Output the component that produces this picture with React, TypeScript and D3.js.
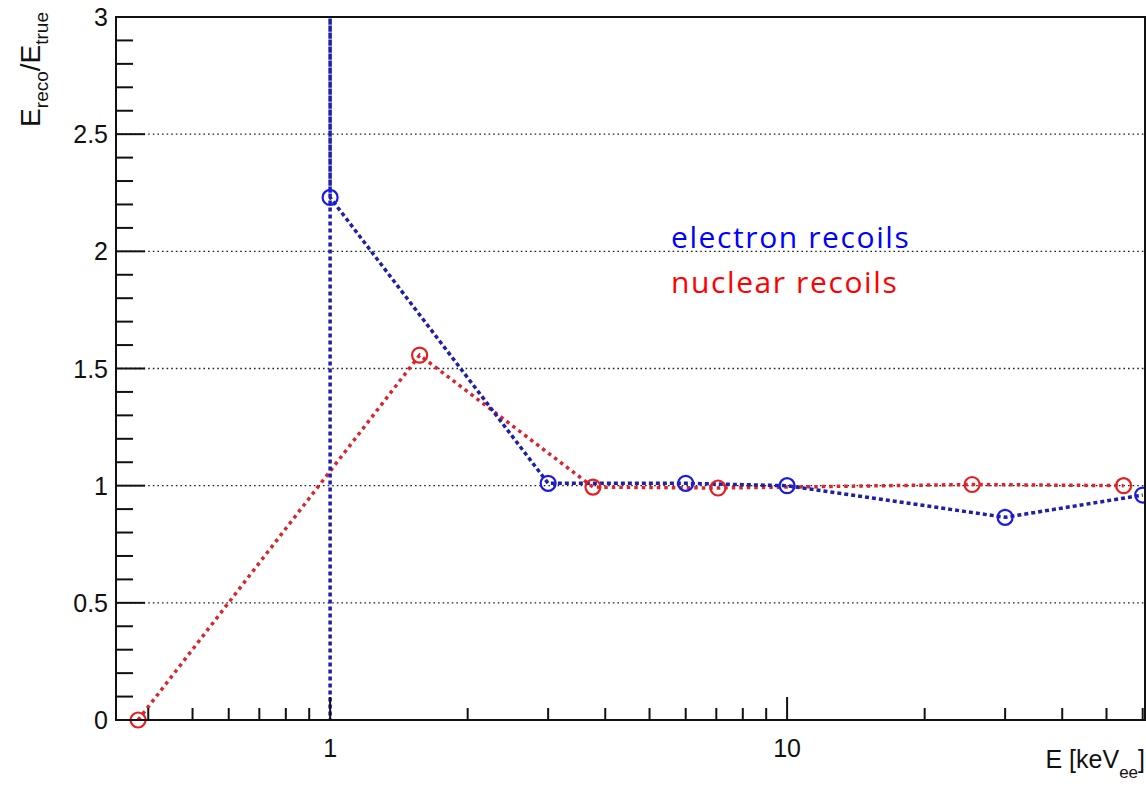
import React from "react";
import * as d3 from "d3";

const electronE = [1, 1, 1, 3, 6, 10, 30, 60];
const electronR = [-0.1, 3.1, 2.23, 1.01, 1.01, 1.0, 0.865, 0.96];
const nuclearE = [0.38, 1.57, 3.76, 7.06, 25.4, 54.5];
const nuclearR = [0, 1.557, 0.994, 0.99, 1.005, 1.0];
const yMajorTicks = [0, 0.5, 1, 1.5, 2, 2.5, 3];
const yGridTicks = [0.5, 1, 1.5, 2, 2.5];
const xMajorTicks = [1, 10];
const xTickLabels = ["1", "10"];
const seriesLabels = ["electron recoils", "nuclear recoils"];

const W = 1146;
const H = 788;
const L = 116, R = 1145, T = 17, B = 720;

export default function App() {
  const x = d3.scaleLog().domain([0.34, 60.7]).range([L, R]);
  const y = d3.scaleLinear().domain([0, 3]).range([B, T]);

  const yMinor = d3.range(0, 3.0001, 0.1).filter((v) => Math.abs(v * 2 - Math.round(v * 2)) > 1e-6);
  const xMinor: number[] = [];
  for (const dec of [0.1, 1, 10]) {
    for (let k = 2; k <= 9; k++) {
      const v = dec * k;
      if (v > 0.34 && v < 60.7) xMinor.push(v);
    }
  }

  const line = d3
    .line<[number, number]>()
    .x((d) => x(d[0]))
    .y((d) => y(d[1]));

  const ePts: [number, number][] = electronE.map((e, i) => [e, electronR[i]]);
  const nPts: [number, number][] = nuclearE.map((e, i) => [e, nuclearR[i]]);
  const inRange = (d: [number, number]) => d[1] >= 0 && d[1] <= 3;

  const font = "'Liberation Sans', Arial, Helvetica, sans-serif";
  const blueLine = "#1f1fa8";
  const redLine = "#d8262c";
  const blueMk = "#1a1ae6";
  const redMk = "#e61e1e";

  return (
    <svg
      width={W}
      height={H}
      style={{ position: "absolute", left: 0, top: 0, background: "#fff" }}
      fontFamily={font}
    >
      <defs>
        <clipPath id="plotclip">
          <rect x={L} y={T} width={R - L} height={B - T} />
        </clipPath>
      </defs>
      <rect x={0} y={0} width={W} height={H} fill="#fff" />

      {/* grid */}
      {yGridTicks.map((v) => (
        <line
          key={"g" + v}
          x1={L}
          x2={R}
          y1={y(v)}
          y2={y(v)}
          stroke="#222"
          strokeWidth={1.4}
          strokeDasharray="1.6 3"
        />
      ))}

      {/* series lines */}
      <g clipPath="url(#plotclip)">
        <path d={line(nPts) || ""} fill="none" stroke={redLine} strokeWidth={3.5} strokeDasharray="3.5 4" />
        <path d={line(ePts) || ""} fill="none" stroke={blueLine} strokeWidth={3.5} strokeDasharray="4 3" />
      </g>

      {/* markers */}
      {nPts.filter(inRange).map((d, i) => (
        <circle key={"n" + i} cx={x(d[0])} cy={y(d[1])} r={7.5} fill="none" stroke={redMk} strokeWidth={2.2} />
      ))}
      {ePts.filter(inRange).map((d, i) => (
        <circle key={"e" + i} cx={x(d[0])} cy={y(d[1])} r={7.5} fill="none" stroke={blueMk} strokeWidth={2.2} />
      ))}

      {/* frame */}
      <rect x={L} y={T} width={R - L} height={B - T} fill="none" stroke="#111" strokeWidth={2} />

      {/* y ticks */}
      {yMajorTicks.map((v) => (
        <g key={"ym" + v}>
          <line x1={L} x2={L + 29} y1={y(v)} y2={y(v)} stroke="#111" strokeWidth={2} />
          <text x={108} y={y(v)} dy="0.36em" textAnchor="end" fontSize={25} fill="#111">
            {String(v)}
          </text>
        </g>
      ))}
      {yMinor.map((v) => (
        <line key={"yn" + v} x1={L} x2={L + 17} y1={y(v)} y2={y(v)} stroke="#111" strokeWidth={2} />
      ))}

      {/* x ticks */}
      {xMajorTicks.map((v, i) => (
        <g key={"xm" + v}>
          <line x1={x(v)} x2={x(v)} y1={B} y2={B - 23} stroke="#111" strokeWidth={2} />
          <text x={x(v)} y={757} textAnchor="middle" fontSize={25} fill="#111">
            {xTickLabels[i]}
          </text>
        </g>
      ))}
      {xMinor.map((v) => (
        <line key={"xn" + v} x1={x(v)} x2={x(v)} y1={B} y2={B - 12} stroke="#111" strokeWidth={2} />
      ))}

      {/* axis titles */}
      <text x={1145} y={768} textAnchor="end" fontSize={25} fill="#111">
        E [keV<tspan fontSize={17} dy={10}>ee</tspan>
        <tspan dy={-10}>]</tspan>
      </text>
      <text
        transform="translate(40,12) rotate(-90)"
        textAnchor="end"
        fontSize={28}
        fill="#111"
      >
        E<tspan fontSize={19} dy={8}>reco</tspan>
        <tspan dy={-8}>/E</tspan>
        <tspan fontSize={19} dy={8}>true</tspan>
      </text>

      {/* legend text */}
      <text x={671} y={248} fontFamily="'Open Sans', sans-serif" fontSize={30} letterSpacing={1.6} fill="#0000ff">
        {seriesLabels[0]}
      </text>
      <text x={671} y={293} fontFamily="'Open Sans', sans-serif" fontSize={30} letterSpacing={1.6} fill="#ff0000">
        {seriesLabels[1]}
      </text>
    </svg>
  );
}
